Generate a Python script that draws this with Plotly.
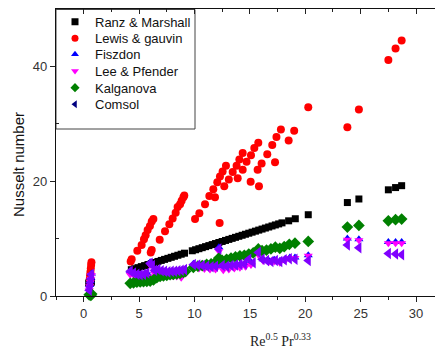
import plotly.graph_objects as go

# ---------------- data ----------------
ranz_x = [0.45, 0.55, 0.62, 0.70,
          4.3, 4.6, 4.9, 5.2, 5.5, 5.8, 6.1, 6.4, 6.7, 7.0, 7.3, 7.6, 7.9, 8.2, 8.5, 8.8, 9.1,
          9.8, 10.1, 10.4, 10.7, 11.0, 11.3, 11.6, 11.9, 12.2, 12.5, 12.8, 13.1, 13.4, 13.7, 14.0, 14.3,
          14.6, 14.9, 15.2, 15.5, 15.8, 16.1, 16.4, 16.7, 17.0, 17.3, 17.6, 17.9, 18.5, 19.1,
          20.27, 23.8, 24.84, 27.5, 28.15, 28.7]
ranz_y = [2.27, 2.33, 2.37, 2.42,
          4.58, 4.76, 4.94, 5.12, 5.30, 5.48, 5.66, 5.84, 6.02, 6.20, 6.38, 6.56, 6.74, 6.92, 7.10, 7.28, 7.46,
          7.88, 8.06, 8.24, 8.42, 8.60, 8.78, 8.96, 9.14, 9.32, 9.50, 9.68, 9.86, 10.04, 10.22, 10.40, 10.58,
          10.76, 10.94, 11.12, 11.30, 11.48, 11.66, 11.84, 12.02, 12.20, 12.38, 12.56, 12.74, 13.10, 13.46,
          14.16, 16.28, 16.90, 18.50, 18.89, 19.22]

lewis_x = [0.55, 0.58, 0.61, 0.64, 0.67, 0.70,
           4.24, 4.33, 4.84, 5.23, 5.44, 5.59, 5.77, 5.98, 6.14, 6.29,
           6.05, 6.14, 6.86, 7.34, 7.73, 8.03, 8.30, 8.48, 8.70, 8.84, 9.00, 9.08,
           10.05, 10.44, 10.95, 11.34, 11.70, 11.85, 12.06, 12.30, 12.54, 12.84, 12.27, 12.69,
           13.10, 13.45, 13.80, 14.05, 14.35, 13.90, 14.35, 14.70, 15.10, 15.40, 15.76,
           15.07, 15.82, 15.70, 16.06, 16.57, 17.02, 17.40, 17.80, 17.27, 18.50, 19.00,
           20.27, 23.80, 24.84, 27.50, 28.15, 28.70]
lewis_y = [3.0, 3.6, 4.2, 4.8, 5.4, 5.9,
           6.0, 6.4, 7.9, 8.9, 9.9, 10.6, 11.5, 12.2, 13.0, 13.4,
           7.6, 8.0, 9.8, 11.3, 12.5, 13.5, 14.5, 15.5, 16.0, 16.6, 17.2, 17.5,
           13.4, 14.4, 16.0, 17.4, 18.6, 17.2, 19.8, 20.8, 21.7, 22.7, 12.7, 19.1,
           20.3, 21.6, 22.7, 23.8, 24.9, 20.5, 22.0, 23.4, 24.5, 25.8, 26.7,
           19.9, 19.1, 22.0, 23.1, 24.7, 26.3, 27.7, 29.0, 23.3, 27.1, 28.8,
           32.9, 29.4, 32.5, 41.1, 43.1, 44.5]

fisz_x = [0.50, 0.55, 0.60, 0.65, 0.70,
          4.2, 4.6, 5.0, 5.4, 5.8, 6.0, 6.4, 6.8, 7.2, 7.6, 8.0, 8.4, 8.8, 9.2,
          9.9, 10.4, 10.9, 11.4, 11.9, 12.2, 12.6, 13.1, 13.6, 14.1, 14.6, 15.1, 15.76, 16.2, 16.7,
          17.2, 17.7, 18.2, 18.6, 19.07, 20.27, 23.8, 24.84, 27.5, 28.15, 28.7]
fisz_y = [1.2, 1.9, 2.6, 3.2, 3.9,
          4.4, 3.9, 3.7, 3.6, 3.8, 5.9, 4.4, 4.5, 4.2, 4.1, 4.2, 4.3, 4.4, 4.7,
          5.6, 5.4, 5.2, 5.1, 5.2, 8.5, 5.2, 5.2, 5.3, 5.4, 5.6, 5.9, 7.8, 6.4, 6.2,
          6.3, 6.1, 6.5, 6.7, 6.7, 7.1, 10.0, 9.9, 9.4, 9.4, 9.4]

lee_x = [0.50, 0.55, 0.60, 0.65, 0.70,
         4.2, 4.6, 5.0, 5.4, 5.8, 6.0, 6.4, 6.8, 7.2, 7.6, 8.0, 8.4, 8.8, 9.2,
         9.9, 10.4, 10.9, 11.4, 11.9, 12.2, 12.6, 13.1, 13.6, 14.1, 14.6, 15.1, 15.76, 16.2, 16.7,
         17.2, 17.7, 18.2, 18.6, 19.07, 20.27, 23.8, 24.84, 27.5, 28.15, 28.7]
lee_y = [1.0, 1.7, 2.4, 3.0, 3.6,
         3.7, 3.4, 3.3, 3.2, 3.4, 5.4, 3.9, 4.0, 3.7, 3.6, 3.5, 3.4, 3.2, 3.9,
         4.9, 4.8, 4.7, 4.6, 4.6, 7.8, 4.5, 4.6, 4.8, 4.9, 5.1, 5.4, 7.2, 6.1, 5.9,
         6.0, 5.8, 6.2, 6.6, 6.6, 7.0, 9.8, 9.7, 9.2, 9.2, 9.2]

kalg_x = [0.50, 0.58, 0.65, 0.72,
          4.2, 4.5, 4.8, 5.1, 5.4, 5.7, 6.0, 6.3, 6.6, 6.9, 7.2, 7.5, 7.8, 8.1, 8.4, 8.7, 9.0, 9.2,
          9.9, 10.3, 10.7, 11.1, 11.5, 11.9, 12.2, 12.5, 12.9, 13.3, 13.7, 14.1, 14.5, 14.9, 15.3,
          15.76, 16.1, 16.5, 16.9, 17.3, 17.7, 18.1, 18.56, 19.07,
          20.27, 23.8, 24.84, 27.5, 28.15, 28.7]
kalg_y = [0.2, 0.3, 0.1, 0.35,
          2.2, 2.3, 2.4, 2.45, 2.5, 2.55, 2.6, 2.8, 3.2, 3.4, 3.5, 3.6, 3.7, 3.75, 3.85, 3.95, 4.1, 4.3,
          5.0, 5.2, 5.3, 5.5, 5.6, 5.9, 6.6, 6.2, 6.4, 6.6, 6.8, 7.0, 7.1, 7.3, 7.5,
          8.2, 7.9, 8.0, 8.2, 8.5, 8.3, 8.6, 9.0, 9.2,
          9.5, 12.0, 12.3, 13.1, 13.3, 13.4]

comsol_x = [0.50, 0.55, 0.60, 0.65, 0.70,
            4.2, 4.5, 4.8, 5.1, 5.4, 5.7, 6.0, 6.2, 6.4, 6.7, 7.0, 7.3, 7.6, 7.9, 8.2, 8.5, 8.8, 9.1,
            9.9, 10.3, 10.7, 11.1, 11.5, 11.9, 12.2, 12.5, 12.9, 13.3, 13.7, 14.1, 14.5, 14.9, 15.3,
            15.76, 16.1, 16.5, 16.9, 17.3, 17.7, 18.1, 18.56, 19.07,
            20.27, 23.8, 24.84, 27.5, 28.15, 28.7]
comsol_y = [1.0, 1.6, 2.3, 3.0, 3.8,
            4.3, 4.0, 3.8, 3.7, 3.8, 4.0, 5.7, 5.3, 4.5, 4.6, 4.4, 4.3, 4.2, 4.3, 4.3, 4.4, 4.5, 4.6,
            5.5, 5.4, 5.3, 5.2, 5.1, 5.2, 8.2, 5.3, 5.2, 5.3, 5.4, 5.5, 5.6, 6.4, 5.8,
            7.6, 6.4, 6.2, 6.0, 6.2, 6.0, 6.3, 6.5, 6.4,
            6.2, 8.9, 8.4, 7.4, 7.3, 7.2]

series_names = ["Ranz & Marshall", "Lewis & gauvin", "Fiszdon", "Lee & Pfender", "Kalganova", "Comsol"]
x_ticks = [0, 5, 10, 15, 20, 25, 30]
y_ticks = [0, 20, 40]

# ---------------- figure ----------------
W, H = 435, 349
L, T, B = 56, 9, 53
plot_w = W - L
plot_h = H - T - B


def px2paper_x(px):
    return (px - L) / plot_w


def px2paper_y(py):
    return (H - B - py) / plot_h


fig = go.Figure()

styles = [
    dict(symbol="square", color="#000000", size=7),
    dict(symbol="circle", color="#ff0000", size=8),
    dict(symbol="triangle-up", color="#0000ff", size=8),
    dict(symbol="triangle-down", color="#ff00ff", size=8),
    dict(symbol="diamond", color="#008000", size=9),
    dict(symbol="triangle-left", color="#8000ff", size=10),
]
data = [(ranz_x, ranz_y), (lewis_x, lewis_y), (fisz_x, fisz_y),
        (lee_x, lee_y), (kalg_x, kalg_y), (comsol_x, comsol_y)]

for (xs, ys), st, name in zip(data, styles, series_names):
    fig.add_trace(go.Scatter(
        x=xs, y=ys, mode="markers", name=name, showlegend=False,
        marker=dict(symbol=st["symbol"], color=st["color"], size=st["size"], line=dict(width=0)),
        cliponaxis=False,
    ))

# one single-item legend per series, so the row spacing can match the original
legend_colors = ["#000000", "#ff0000", "#0000ff", "#ff00ff", "#008000", "#000080"]
row_y = [21.7, 38.3, 54.3, 71.0, 87.7, 104.3]
legend_font = dict(family="Arial, Liberation Sans, sans-serif", size=13, color="#111111")
legend_layouts = {}
for i, (st, col, name) in enumerate(zip(styles, legend_colors, series_names)):
    lname = "legend" if i == 0 else f"legend{i + 1}"
    fig.add_trace(go.Scatter(
        x=[None], y=[None], mode="markers", name=name, showlegend=True, legend=lname,
        marker=dict(symbol=st["symbol"], color=col, size=7, line=dict(width=0)),
    ))
    legend_layouts[lname] = dict(
        x=px2paper_x(55), y=px2paper_y(row_y[i]), xanchor="left", yanchor="middle",
        bgcolor="rgba(255,255,255,0)", borderwidth=0, font=legend_font,
    )

axis_font = dict(family="Arial, Liberation Sans, sans-serif", size=13, color="#333333")

fig.update_layout(
    width=W, height=H,
    margin=dict(l=L, r=0, t=T, b=B, autoexpand=False),
    paper_bgcolor="white", plot_bgcolor="white",
    font=axis_font,
    xaxis=dict(
        range=[-2.5, 31.71], tickvals=x_ticks, ticks="outside", ticklen=5, tickwidth=1,
        tickcolor="#222222", showline=True, linecolor="#111111", linewidth=1.2,
        showgrid=False, zeroline=False, tickfont=axis_font, automargin=False,
        minor=dict(dtick=2.5, tick0=0, ticks="outside", ticklen=3, tickcolor="#222222", showgrid=False),
    ),
    xaxis2=dict(
        range=[-2.5, 31.71], overlaying="x", anchor="y", side="top", tickvals=x_ticks, ticks="inside",
        ticklen=5, tickcolor="#222222", showline=True, linecolor="#111111", linewidth=1.2,
        showticklabels=False, showgrid=False, zeroline=False, automargin=False,
        minor=dict(dtick=2.5, tick0=0, ticks="inside", ticklen=3, tickcolor="#222222", showgrid=False),
    ),
    yaxis=dict(
        range=[0, 50], tickvals=y_ticks, ticks="outside", ticklen=5, tickwidth=1,
        tickcolor="#222222", showline=True, linecolor="#111111", linewidth=1.2,
        showgrid=False, zeroline=False, tickfont=axis_font, automargin=False,
        minor=dict(tickvals=[10, 30], ticks="inside", ticklen=3, tickcolor="#222222", showgrid=False),
    ),
    showlegend=True,
    **legend_layouts,
)

# invisible copy of one series on the top axis so that the top axis is drawn
fig.add_trace(go.Scatter(x=ranz_x, y=ranz_y, xaxis="x2", mode="markers", showlegend=False,
                         marker=dict(opacity=0), hoverinfo="skip"))

# legend frame
fig.add_shape(type="rect", xref="paper", yref="paper",
              x0=px2paper_x(56), x1=px2paper_x(195), y0=px2paper_y(129), y1=px2paper_y(9.5),
              line=dict(color="#444444", width=1), fillcolor="white", layer="below")

# axis titles
fig.add_annotation(
    text="Nusselt number", xref="paper", yref="paper",
    x=px2paper_x(18), y=px2paper_y(165), textangle=-90, showarrow=False,
    font=dict(family="Arial, Liberation Sans, sans-serif", size=15, color="#111111"),
    xanchor="center", yanchor="middle",
)
fig.add_annotation(
    text="Re<sup>0.5</sup> Pr<sup>0.33</sup>", xref="paper", yref="paper",
    x=px2paper_x(280), y=px2paper_y(340), showarrow=False,
    font=dict(family="Liberation Serif, Times New Roman, serif", size=14, color="#222222"),
    xanchor="center", yanchor="middle",
)

fig.write_html("out.html", config={"displayModeBar": False},
               post_script="document.body.style.margin='0px';document.body.style.overflow='hidden';")
